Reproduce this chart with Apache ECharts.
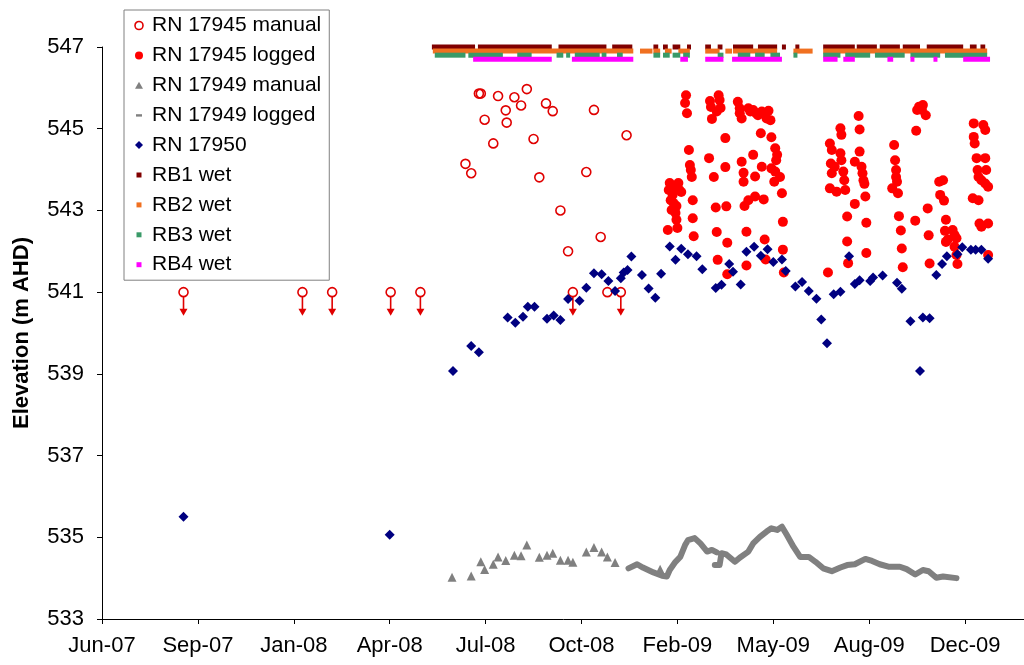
<!DOCTYPE html>
<html>
<head>
<meta charset="utf-8">
<title>Groundwater elevation – RN 17945 / 17949 / 17950</title>
<script src="https://cdn.jsdelivr.net/npm/echarts@6/dist/echarts.min.js"></script>
<style>
  html, body { margin: 0; padding: 0; background: #fff; }
  #chart { width: 1024px; height: 665px; }
</style>
</head>
<body>
<div id="chart"></div>
<script>
// Time axis is counted in days from the start of the record
const START_DATE = Date.UTC(2007, 5, 16);
const DAY_MS = 86400000;
const MONTHS = ['Jan','Feb','Mar','Apr','May','Jun','Jul','Aug','Sep','Oct','Nov','Dec'];
const X_TICK_STEP = 100;                 // days between date ticks
const Y_TICKS = [533, 535, 537, 539, 541, 543, 545, 547];

// RN 17945 manual readings: [day, elevation, belowLogger(1 = dry, reading below 541)]
const rn17945Manual = [
  [85,541.0,1],[209,541.0,1],[240,541.0,1],[301,541.0,1],[332,541.0,1],
  [379,544.14,0],[385,543.91,0],[393,545.86,0],[395,545.86,0],[399,545.22,0],
  [408,544.64,0],[413,545.80,0],[421,545.45,0],[422,545.15,0],[430,545.77,0],
  [437,545.57,0],[443,545.97,0],[450,544.75,0],[456,543.81,0],[463,545.62,0],
  [470,545.43,0],[478,543.00,0],[486,542.00,0],[491,541.0,1],[505,543.94,0],
  [513,545.46,0],[520,542.35,0],[527,541.0,0],[541,541.0,1],[547,544.84,0]
];

// RN 17945 logger readings: [day, elevation]
const rn17945Logged = [
  [590,542.52],[591,543.50],[592,543.67],[593,543.25],[594,543.01],[595,543.38],[596,543.18],[598,542.94],
  [599,542.77],[600,542.57],[601,543.67],[602,543.50],[604,543.45],[600,543.57],[595,543.55],[599,543.11],
  [609,545.82],[608,545.63],[610,545.38],[612,544.48],[613,544.11],[614,543.99],[615,543.82],[616,543.25],
  [616,542.81],[617,542.37],
  [633,544.28],[634,545.68],[635,545.53],[636,545.24],[638,543.82],[640,543.07],[641,545.42],[641,542.47],
  [642,541.79],[643,545.82],[644,545.70],[645,545.51],[650,544.77],[650,544.06],[651,543.10],[652,542.21],
  [652,541.44],
  [663,545.66],[665,545.50],[665,545.38],[667,545.25],[667,544.19],[669,543.92],[669,543.70],[670,543.11],
  [672,542.48],[672,541.65],[674,545.50],[674,543.25],[676,545.42],[679,545.46],[679,544.36],[681,543.83],
  [681,543.34],[682,545.38],[684,545.33],[687,544.89],[688,545.42],[688,544.07],[690,543.27],[691,542.29],
  [691,545.38],[692,541.80],[693,545.25],[695,545.44],[697,545.21],[698,544.79],[698,544.03],[701,543.70],
  [702,544.52],[702,543.95],[703,544.23],[704,544.36],[707,543.82],[709,543.42],[710,542.72],[710,542.04],
  [711,541.48],
  [757,541.48],[759,544.64],[759,543.54],[760,544.15],[761,544.48],[761,543.91],[764,544.07],[766,543.46],
  [770,545.01],[770,544.40],[771,544.85],[771,544.23],[773,543.95],[774,543.74],[775,543.50],[777,542.85],
  [777,542.24],[778,541.71],[785,544.19],[785,543.16],[789,545.31],[790,544.98],[790,544.44],[792,544.07],
  [793,543.91],[794,543.74],[795,543.65],[796,543.34],[797,542.70],[797,541.96],
  [824,543.54],[826,544.60],[827,544.23],[828,543.99],[828,543.82],[829,543.70],[830,543.42],[831,542.86],
  [833,542.51],[834,542.07],[835,541.61],[848,542.75],[849,544.95],
  [850,545.46],[852,545.54],[856,545.58],[855,545.46],[859,545.33],[861,543.05],[862,542.39],[863,541.70],
  [873,543.70],[877,543.74],[874,543.38],[878,543.24],[880,542.77],[879,542.50],[882,542.29],[880,542.23],
  [887,542.52],[889,542.40],[891,542.32],[889,542.11],[891,541.91],[892,541.69],
  [908,543.30],[909,545.13],[909,544.80],[910,544.64],[912,544.28],[913,543.99],[914,543.82],[914,543.25],
  [915,542.68],[917,543.74],[917,542.60],[919,545.09],[921,544.97],[921,544.28],[922,543.99],[921,543.66],
  [924,543.58],[924,542.68],[924,541.91]
];

// RN 17949 manual readings: [day, elevation]
const rn17949Manual = [
  [365,534.02],[385,534.05],[395,534.40],[399,534.21],[408,534.34],[413,534.52],[421,534.43],[430,534.56],
  [437,534.55],[443,534.81],[456,534.51],[464,534.56],[470,534.61],[478,534.44],[486,534.44],[491,534.39],
  [505,534.64],[513,534.75],[521,534.64],[527,534.52],[535,534.38],[582,534.22]
];

// RN 17949 logger trace: [day, elevation]; null marks a gap in the record
const rn17949Logged = [
  [549,534.24],[558,534.34],[564,534.26],[575,534.14],[584,534.06],[589,534.04],[592,534.20],[598,534.40],
  [603,534.52],[608,534.81],[611,534.93],[618,534.98],[624,534.85],[631,534.65],[636,534.69],[641,534.63],
  null,
  [639,534.32],[644,534.32],[646,534.61],[651,534.58],[660,534.40],[665,534.50],[674,534.65],[679,534.85],
  [686,535.01],[693,535.14],[698,535.22],[704,535.18],[709,535.26],[714,535.06],[721,534.77],[728,534.52],
  [737,534.52],[744,534.40],[752,534.24],[761,534.17],[770,534.26],[777,534.32],[785,534.34],[796,534.47],
  [803,534.42],[811,534.34],[820,534.28],[832,534.28],[839,534.22],[848,534.09],[856,534.20],[862,534.17],
  [870,534.01],[877,534.04],[891,534.00]
];

// RN 17950 readings: [day, elevation]
const rn17950 = [
  [85,535.50],[300,535.06],[366,539.07],[385,539.68],[393,539.53],[423,540.38],[431,540.25],[439,540.40],
  [444,540.64],[451,540.64],[464,540.35],[471,540.43],[478,540.32],[486,540.83],[498,540.79],[505,541.11],
  [513,541.46],[521,541.44],[528,541.27],[535,541.03],[541,541.34],[544,541.48],[548,541.54],[552,541.87],
  [563,541.42],[570,541.09],[577,540.86],[583,541.45],[592,542.12],[598,541.79],[604,542.06],[611,541.93],
  [620,541.88],[626,541.56],[640,541.10],[646,541.18],[654,541.69],[658,541.50],[666,541.19],[672,541.99],
  [680,542.11],[687,541.89],[694,542.05],[700,541.74],[709,541.80],[713,541.52],[723,541.14],[730,541.25],
  [737,541.03],[745,540.84],[750,540.33],[756,539.75],[763,540.95],[770,541.01],[779,541.88],[785,541.20],
  [790,541.29],[801,541.27],[804,541.36],[814,541.41],[829,541.23],[834,541.08],[843,540.29],[853,539.07],
  [856,540.38],[863,540.36],[870,541.42],[876,541.69],[881,541.88],[892,541.93],[897,542.10],[906,542.04],
  [911,542.04],[917,542.04],[924,541.82]
];

// Wet periods for the four rain buckets: [startDay, endDay]
const rb1Wet = [[344,389],[392,469],[476,526],[532,553],[575,580],[585,590],[595,603],[610,614],[629,635],
  [642,647],[658,679],[684,704],[709,712],[723,726],[752,785],[787,808],[811,832],[835,853],[860,898],
  [905,912],[916,921]];
const rb2Wet = [[345,554],[561,574],[575,582],[587,594],[601,613],[629,644],[650,657],[658,704],[721,741],
  [752,923]];
const rb3Wet = [[347,379],[382,418],[433,448],[474,481],[484,488],[493,519],[521,526],[537,543],[575,582],
  [585,592],[595,603],[606,613],[642,648],[663,676],[681,691],[697,707],[721,725],[752,770],[775,801],
  [806,837],[843,874],[879,923]];
const rb4Wet = [[387,469],[490,554],[603,611],[629,648],[657,709],[752,767],[773,785],[819,825],[843,846],
  [867,871],[898,926]];
// Elevation at which each bucket's wet indicator row is drawn
const rbRowElevation = [547.0, 546.9, 546.8, 546.7];

const COLORS = {
  manual17945: '#e00000',
  logged17945: '#ff0000',
  manual17949: '#808080',
  logged17949: '#808080',
  rn17950: '#000080',
  rb: ['#800000', '#f07020', '#3a9a68', '#ff00ff']
};

function dateLabel(day) {
  const d = new Date(START_DATE + day * DAY_MS);
  return MONTHS[d.getUTCMonth()] + '-' + String(d.getUTCFullYear()).slice(2);
}

const FONT = 'Liberation Sans, Arial, sans-serif';

function wetSeries(name, periods, level, color, z) {
  return {
    name: name,
    type: 'custom',
    z: z,
    color: color,
    itemStyle: { color: color },
    data: periods.map(p => [p[0], p[1], level]),
    encode: { x: [0, 1], y: 2 },
    renderItem: function (params, api) {
      const a = api.coord([api.value(0), api.value(2)]);
      const b = api.coord([api.value(1), api.value(2)]);
      const w = Math.max(b[0] - a[0], 4);
      return {
        type: 'rect',
        shape: { x: a[0], y: a[1] - 2.5, width: w, height: 5 },
        style: { fill: color }
      };
    }
  };
}

const loggedLine = rn17949Logged.map(p => p === null ? ['-', '-'] : p);

const legendNames = ['RN 17945 manual','RN 17945 logged','RN 17949 manual','RN 17949 logged',
  'RN 17950','RB1 wet','RB2 wet','RB3 wet','RB4 wet'];

// Legend icons in a 16x8 box (leading moveTo points fix the box size)
const iconTriangle = 'path://M0,0 M16,8 M8,0.5 L12,7.5 L4,7.5 Z';
const iconDiamond = 'path://M0,0 M16,8 M8,0 L12,4 L8,8 L4,4 Z';
const iconSquare = 'path://M0,0 M16,8 M5.5,1.5 H10.5 V6.5 H5.5 Z';
const iconDash = 'path://M0,0 M16,8 M5,3 H11 V5.4 H5 Z';

const chart = echarts.init(document.getElementById('chart'), null, { renderer: 'canvas' });

chart.setOption({
  animation: false,
  backgroundColor: '#ffffff',
  textStyle: { fontFamily: FONT },
  grid: {
    left: 102, top: 47, width: 959, height: 572,
    containLabel: false,
    outerBoundsMode: 'none'
  },
  legend: {
    orient: 'vertical',
    left: 124,
    top: 10,
    padding: [5, 8, 5, 7],
    itemWidth: 16,
    itemHeight: 8,
    itemGap: 8.9,
    symbolKeepAspect: true,
    backgroundColor: '#ffffff',
    borderColor: '#808080',
    borderWidth: 1,
    selectedMode: false,
    textStyle: { fontFamily: FONT, fontSize: 21, lineHeight: 21, color: '#000' },
    data: [
      { name: legendNames[0], icon: 'circle',
        itemStyle: { color: 'rgba(0,0,0,0)', borderColor: COLORS.manual17945, borderWidth: 1.6 } },
      { name: legendNames[1], icon: 'circle', itemStyle: { color: COLORS.logged17945, borderWidth: 0 } },
      { name: legendNames[2], icon: iconTriangle, itemStyle: { color: COLORS.manual17949, borderWidth: 0 } },
      { name: legendNames[3], icon: iconDash, itemStyle: { color: COLORS.logged17949, borderWidth: 0 } },
      { name: legendNames[4], icon: iconDiamond, itemStyle: { color: COLORS.rn17950, borderWidth: 0 } },
      { name: legendNames[5], icon: iconSquare, itemStyle: { color: COLORS.rb[0], borderWidth: 0 } },
      { name: legendNames[6], icon: iconSquare, itemStyle: { color: COLORS.rb[1], borderWidth: 0 } },
      { name: legendNames[7], icon: iconSquare, itemStyle: { color: COLORS.rb[2], borderWidth: 0 } },
      { name: legendNames[8], icon: iconSquare, itemStyle: { color: COLORS.rb[3], borderWidth: 0 } }
    ]
  },
  xAxis: {
    type: 'value',
    min: 0,
    max: 1000,
    interval: X_TICK_STEP,
    axisLine: { show: true, onZero: false, lineStyle: { color: '#000', width: 1 } },
    axisTick: { show: true, inside: false, length: 5, lineStyle: { color: '#000' } },
    axisLabel: {
      margin: 16,
      fontFamily: FONT,
      fontSize: 22,
      color: '#000',
      formatter: v => dateLabel(v)
    },
    splitLine: { show: false }
  },
  yAxis: {
    type: 'value',
    min: 533,
    max: 547,
    interval: 1,
    name: 'Elevation (m AHD)',
    nameLocation: 'middle',
    nameGap: 69,
    nameRotate: 90,
    nameTextStyle: { fontFamily: FONT, fontSize: 22, fontWeight: 'bold', color: '#000' },
    axisLine: { show: true, onZero: false, lineStyle: { color: '#000', width: 1 } },
    axisTick: { show: true, inside: false, length: 5, customValues: Y_TICKS, lineStyle: { color: '#000' } },
    axisLabel: {
      margin: 18,
      fontFamily: FONT,
      fontSize: 22,
      color: '#000',
      customValues: Y_TICKS
    },
    splitLine: { show: false }
  },
  series: [
    {
      name: 'RN 17945 manual',
      type: 'scatter',
      symbol: 'circle',
      symbolSize: 9,
      itemStyle: { color: 'rgba(0,0,0,0)', borderColor: COLORS.manual17945, borderWidth: 1.6, opacity: 1 },
      data: rn17945Manual.map(p => [p[0], p[1]]),
      z: 3
    },
    {
      name: 'RN 17945 below logger',
      type: 'scatter',
      symbol: 'path://M3.2,0 H4.8 V12 H8 L4,19 L0,12 H3.2 Z',
      symbolSize: [8, 19],
      symbolOffset: [0, 14],
      itemStyle: { color: COLORS.manual17945, opacity: 1 },
      data: rn17945Manual.filter(p => p[2] === 1).map(p => [p[0], p[1]]),
      z: 3
    },
    {
      name: 'RN 17945 logged',
      type: 'scatter',
      symbol: 'circle',
      symbolSize: 10,
      itemStyle: { color: COLORS.logged17945, opacity: 1 },
      data: rn17945Logged,
      z: 4
    },
    {
      name: 'RN 17949 manual',
      type: 'scatter',
      symbol: 'triangle',
      symbolSize: 9,
      itemStyle: { color: COLORS.manual17949, opacity: 1 },
      data: rn17949Manual,
      z: 5
    },
    {
      name: 'RN 17949 logged',
      type: 'line',
      showSymbol: false,
      symbol: 'none',
      connectNulls: false,
      lineStyle: { color: COLORS.logged17949, width: 6, cap: 'round', join: 'round' },
      itemStyle: { color: COLORS.logged17949 },
      data: loggedLine,
      z: 6
    },
    {
      name: 'RN 17950',
      type: 'scatter',
      symbol: 'diamond',
      symbolSize: 10,
      itemStyle: { color: COLORS.rn17950, opacity: 1 },
      data: rn17950,
      z: 7
    },
    wetSeries('RB1 wet', rb1Wet, rbRowElevation[0], COLORS.rb[0], 8),
    wetSeries('RB2 wet', rb2Wet, rbRowElevation[1], COLORS.rb[1], 9),
    wetSeries('RB3 wet', rb3Wet, rbRowElevation[2], COLORS.rb[2], 10),
    wetSeries('RB4 wet', rb4Wet, rbRowElevation[3], COLORS.rb[3], 11)
  ]
});
</script>
</body>
</html>
